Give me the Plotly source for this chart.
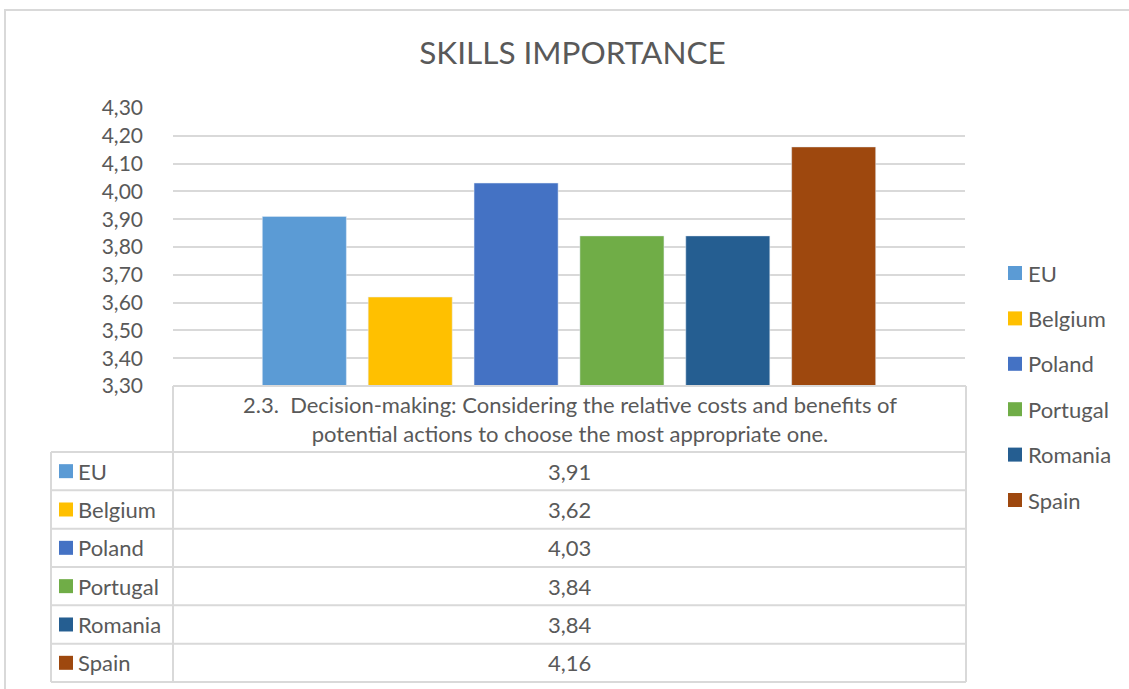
import plotly.graph_objects as go

# ---------------- data ----------------
countries = ["EU", "Belgium", "Poland", "Portugal", "Romania", "Spain"]
values = [3.91, 3.62, 4.03, 3.84, 3.84, 4.16]
colors = ["#5B9BD5", "#FFC000", "#4472C4", "#70AD47", "#255E91", "#9E480E"]
category_label = ("2.3.  Decision-making: Considering the relative costs and benefits of<br>"
                  "potential actions to choose the most appropriate one.")
category = "2.3"
y_ticks = [3.30, 3.40, 3.50, 3.60, 3.70, 3.80, 3.90, 4.00, 4.10, 4.20, 4.30]
title = "SKILLS IMPORTANCE"

# ---------------- layout geometry (pixels) ----------------
W, H = 1129, 689
PL, PR, PT, PB = 173, 965, 108, 386  # plot area in pixels
FONT = "Lato"
FS = 22
TXT = "#595959"
GRID = "#D9D9D9"


def X(px):
    return (px - PL) / (PR - PL)


def Y(py):
    return (PB - py) / (PB - PT)


fig = go.Figure()
for c, v, col in zip(countries, values, colors):
    fig.add_trace(go.Bar(
        x=[category], y=[v], name=c, marker_color=col,
        hoverinfo="y+name", showlegend=False,
    ))

shapes = []
annotations = []

# outer chart frame (only top and left visible in reference)
shapes.append(dict(type="rect", xref="paper", yref="paper",
                   x0=X(5), x1=X(1160), y0=Y(10), y1=Y(720),
                   line=dict(color=GRID, width=2), layer="below"))

# data table
TL, TM, TR = 51, 173, 966
HEAD_B = 452
ROW_H = 38.33
n = len(countries)
table_bottom = HEAD_B + n * ROW_H
line_style = dict(color=GRID, width=2)

shapes.append(dict(type="line", xref="paper", yref="paper",
                   x0=X(TM), x1=X(TR), y0=Y(PB), y1=Y(PB), line=line_style))
shapes.append(dict(type="line", xref="paper", yref="paper",
                   x0=X(TM), x1=X(TM), y0=Y(PB), y1=Y(table_bottom), line=line_style))
shapes.append(dict(type="line", xref="paper", yref="paper",
                   x0=X(TR), x1=X(TR), y0=Y(PB), y1=Y(table_bottom), line=line_style))
shapes.append(dict(type="line", xref="paper", yref="paper",
                   x0=X(TL), x1=X(TL), y0=Y(HEAD_B), y1=Y(table_bottom), line=line_style))
for i in range(n + 1):
    yy = HEAD_B + i * ROW_H
    shapes.append(dict(type="line", xref="paper", yref="paper",
                       x0=X(TL), x1=X(TR), y0=Y(yy), y1=Y(yy), line=line_style))

annotations.append(dict(xref="paper", yref="paper", x=X((TM + TR) / 2), y=Y((PB + HEAD_B) / 2),
                        text=category_label, showarrow=False, xanchor="center", yanchor="middle",
                        font=dict(family=FONT, size=FS, color=TXT), align="center"))

for i, (c, v, col) in enumerate(zip(countries, values, colors)):
    cy = HEAD_B + (i + 0.5) * ROW_H
    shapes.append(dict(type="rect", xref="paper", yref="paper",
                       x0=X(59), x1=X(73), y0=Y(cy - 7), y1=Y(cy + 7),
                       fillcolor=col, line=dict(width=0)))
    annotations.append(dict(xref="paper", yref="paper", x=X(76), y=Y(cy),
                            text=c, showarrow=False, xanchor="left", yanchor="middle",
                            font=dict(family=FONT, size=FS, color=TXT)))
    annotations.append(dict(xref="paper", yref="paper", x=X((TM + TR) / 2), y=Y(cy),
                            text=f"{v:.2f}".replace(".", ","), showarrow=False,
                            xanchor="center", yanchor="middle",
                            font=dict(family=FONT, size=FS, color=TXT)))

# legend (right side)
LEG_Y0, LEG_DY = 273, 45.4
for i, (c, col) in enumerate(zip(countries, colors)):
    cy = LEG_Y0 + i * LEG_DY
    shapes.append(dict(type="rect", xref="paper", yref="paper",
                       x0=X(1008), x1=X(1022), y0=Y(cy - 7), y1=Y(cy + 7),
                       fillcolor=col, line=dict(width=0)))
    annotations.append(dict(xref="paper", yref="paper", x=X(1026), y=Y(cy),
                            text=c, showarrow=False, xanchor="left", yanchor="middle",
                            font=dict(family=FONT, size=FS, color=TXT)))

fig.update_layout(
    width=W, height=H, autosize=False,
    margin=dict(l=PL, r=W - PR, t=PT, b=H - PB, pad=0),
    paper_bgcolor="white", plot_bgcolor="white",
    separators=",.",
    title=dict(text=title, x=572.5 / W, xref="container",
               y=1 - 53 / H, yref="container", xanchor="center", yanchor="middle",
               font=dict(family=FONT, size=31.5, color=TXT)),
    barmode="group", bargap=0.198, bargroupgap=0.206,
    showlegend=False,
    xaxis=dict(showticklabels=False, showline=False, ticks="", showgrid=False,
               fixedrange=True),
    yaxis=dict(range=[3.30, 4.30], tickvals=y_ticks, tickformat=".2f",
               showgrid=True, gridcolor=GRID, gridwidth=1.5, zeroline=False,
               showline=False, ticks="", ticklabelstandoff=29,
               tickfont=dict(family=FONT, size=21, color=TXT), fixedrange=True),
    shapes=shapes, annotations=annotations,
    font=dict(family=FONT, color=TXT),
)

fig.write_html("out.html", config={"displayModeBar": False},
               post_script="document.body.style.margin='0';")
